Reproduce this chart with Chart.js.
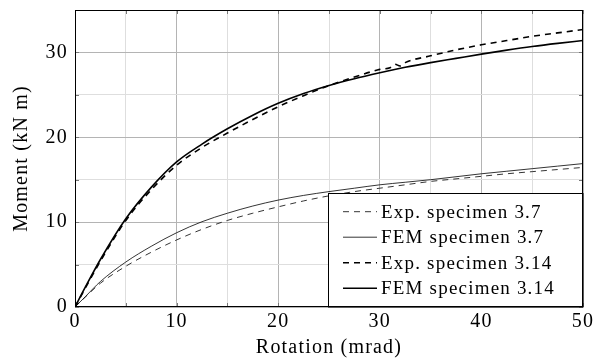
<!DOCTYPE html>
<html><head><meta charset="utf-8">
<script src="https://cdn.jsdelivr.net/npm/chart.js@4/dist/chart.umd.min.js"></script>
<style>html,body{margin:0;padding:0;background:#fff}#wrap{width:593px;height:362px}</style>
</head><body><div id="wrap"><canvas id="c" width="593" height="362"></canvas></div>
<script>
const rotation = [0,1,2.5,5,7.5,10,12.5,15,17.5,20,22.5,25,27.5,30,32.5,35,37.5,40,42.5,45,47.5,50];
const rotationExp314 = [0,1,2.5,5,7.5,10,12.5,15,17.5,20,22.5,25,27.5,30,31,31.5,32,32.5,35,37.5,40,42.5,45,47.5,50];
const exp37  = [0,1.15,2.8,4.8,6.45,7.9,9.15,10.2,11.05,11.8,12.5,13.1,13.6,14.0,14.4,14.8,15.1,15.4,15.7,15.95,16.2,16.45];
const fem37  = [0,1.2,3.0,5.3,7.15,8.75,10.05,11.05,11.9,12.6,13.15,13.6,14.0,14.4,14.7,15.0,15.35,15.7,16.0,16.3,16.6,16.9];
const exp314 = [0,2.2,5.4,10.2,13.8,16.7,18.8,20.5,22.1,23.6,24.9,26.1,27.1,28.0,28.2,28.6,28.4,28.8,29.6,30.3,30.9,31.4,31.9,32.3,32.7];
const fem314 = [0,2.3,5.6,10.4,14.1,17.1,19.2,21.0,22.6,24.0,25.15,26.1,26.9,27.6,28.25,28.8,29.3,29.8,30.27,30.7,31.07,31.4];
const seriesLabels = ['Exp. specimen 3.7','FEM specimen 3.7','Exp. specimen 3.14','FEM specimen 3.14'];
const xTickLabels = [0,10,20,30,40,50];
const yTickLabels = [0,10,20,30];
const xTitle = 'Rotation (mrad)';
const yTitle = 'Moment (kN m)';

const FONT = 'Liberation Serif';
const pts = (xs, ys) => xs.map((x, i) => ({x, y: ys[i]}));

const styles = [
  {w: 0.8, dash: [6,5]},
  {w: 0.8, dash: []},
  {w: 1.6, dash: [6,5]},
  {w: 1.6, dash: []}
];
const dataSets = [pts(rotation, exp37), pts(rotation, fem37), pts(rotationExp314, exp314), pts(rotation, fem314)];

const decor = {
  id: 'decor',
  beforeLayout(chart) { chart.ctx.letterSpacing = '1.2px'; },
  afterDraw(chart) {
    const {ctx, chartArea: a, scales: {x, y}} = chart;
    ctx.save();
    ctx.strokeStyle = '#777';
    ctx.lineWidth = 1;
    ctx.beginPath();
    for (let v = 0; v <= 50; v += 5) {
      const px = Math.round(x.getPixelForValue(v)) + 0.5;
      ctx.moveTo(px, a.bottom); ctx.lineTo(px, a.bottom - 4);
      ctx.moveTo(px, a.top); ctx.lineTo(px, a.top + 4);
    }
    for (let v = 0; v <= 35; v += 5) {
      const py = Math.round(y.getPixelForValue(v)) + 0.5;
      ctx.moveTo(a.left, py); ctx.lineTo(a.left + 4, py);
      ctx.moveTo(a.right, py); ctx.lineTo(a.right - 4, py);
    }
    ctx.stroke();
    const lx = 328.5, ly = 193.5, lr = a.right, lb = a.bottom;
    ctx.fillStyle = '#fff';
    ctx.fillRect(lx, ly, lr - lx, lb - ly);
    ctx.strokeStyle = '#000';
    ctx.lineWidth = 1;
    ctx.strokeRect(lx, ly, lr - lx, lb - ly);
    chart.data.datasets.forEach((ds, i) => {
      const yc = 211.7 + i * 25.5;
      ctx.beginPath();
      ctx.setLineDash(ds.borderDash || []);
      ctx.lineWidth = ds.borderWidth;
      ctx.strokeStyle = '#000';
      ctx.moveTo(343, yc); ctx.lineTo(377, yc);
      ctx.stroke();
      ctx.setLineDash([]);
      ctx.fillStyle = '#000';
      ctx.font = '19px "' + FONT + '"';
      ctx.letterSpacing = '1.2px';
      ctx.textBaseline = 'alphabetic';
      ctx.textAlign = 'left';
      ctx.fillText(ds.label, 381, yc + 5.8);
    });
    ctx.strokeStyle = '#000';
    ctx.lineWidth = 1;
    ctx.strokeRect(a.left + 0.5, a.top + 0.5, a.right - a.left - 1, a.bottom - a.top - 1);
    ctx.restore();
  }
};

const gridColor = (c) => (c.tick && c.tick.value % 10 === 0) ? '#b4b4b4' : '#dedede';

new Chart(document.getElementById('c'), {
  type: 'line',
  data: {
    datasets: dataSets.map((d, i) => ({
      label: seriesLabels[i],
      data: d,
      borderColor: '#000',
      borderWidth: styles[i].w,
      borderDash: styles[i].dash,
      pointRadius: 0,
      fill: false,
      cubicInterpolationMode: 'monotone'
    }))
  },
  options: {
    responsive: false,
    animation: false,
    devicePixelRatio: 1,
    layout: {padding: {left: 0, top: 10, right: 10, bottom: 0}},
    plugins: {legend: {display: false}, tooltip: {enabled: false}},
    scales: {
      x: {
        type: 'linear', min: 0, max: 50,
        afterFit(s) { s.height = 55; s.paddingLeft = 0; s.paddingRight = 0; s.paddingTop = 0; s.paddingBottom = 0; },
        border: {display: false},
        grid: {color: gridColor, drawTicks: false, lineWidth: 1},
        ticks: {stepSize: 5, autoSkip: false, maxRotation: 0, padding: 3, color: '#000',
          font: {family: FONT, size: 20},
          callback: v => xTickLabels.includes(v) ? String(v) : ''},
        title: {display: true, text: xTitle, color: '#000', font: {family: FONT, size: 20}, padding: {top: 0, bottom: 2}}
      },
      y: {
        type: 'linear', min: 0, max: 35,
        afterFit(s) { s.width = 75; s.paddingLeft = 0; s.paddingRight = 0; s.paddingTop = 0; s.paddingBottom = 0; },
        border: {display: false},
        grid: {color: gridColor, drawTicks: false, lineWidth: 1},
        ticks: {stepSize: 5, autoSkip: false, padding: 7, color: '#000',
          font: {family: FONT, size: 20},
          callback: v => yTickLabels.includes(v) ? String(v) : ''},
        title: {display: true, text: yTitle, color: '#000', font: {family: FONT, size: 20}, padding: {top: 10, bottom: 0}}
      }
    }
  },
  plugins: [decor]
});
</script></body></html>
